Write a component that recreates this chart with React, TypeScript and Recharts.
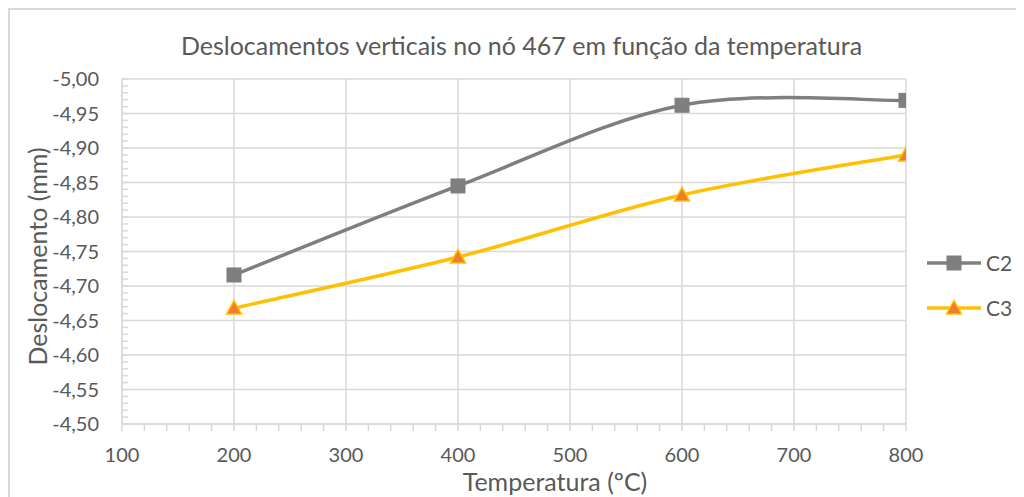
import React from 'react';
import { LineChart, Line, XAxis, YAxis, CartesianGrid, Legend } from 'recharts';

// Temperaturas (ºC) e deslocamentos verticais (mm) no nó 467
const temperatures = [200, 400, 600, 800];
const c2Values = [-4.716, -4.845, -4.962, -4.969];
const c3Values = [-4.668, -4.742, -4.832, -4.89];

const xTicks = [100, 200, 300, 400, 500, 600, 700, 800];
const yTicks = [-5.0, -4.95, -4.9, -4.85, -4.8, -4.75, -4.7, -4.65, -4.6, -4.55, -4.5];
// minor ticks: 5 per major step
const xMinorTicks = Array.from({ length: 36 }, (_, i) => 100 + i * 20);
const yMinorTicks = Array.from({ length: 51 }, (_, i) => -5 + i * 0.01);

const data = temperatures.map((t, i) => ({ temperature: t, C2: c2Values[i], C3: c3Values[i] }));

const series = [
  { key: 'C2', color: '#7f7f7f', marker: 'square' },
  { key: 'C3', color: '#ffc000', marker: 'triangle' },
];

const GRID = '#d9d9d9';
const TEXT = '#595959';

// Excel-style smoothed line (Catmull-Rom through the points)
const smoothCurve = (context: any) => {
  let pts: number[][] = [];
  return {
    areaStart() {},
    areaEnd() {},
    lineStart() {
      pts = [];
    },
    point(x: number, y: number) {
      pts.push([+x, +y]);
    },
    lineEnd() {
      const n = pts.length;
      if (!n) return;
      context.moveTo(pts[0][0], pts[0][1]);
      for (let i = 0; i < n - 1; i++) {
        const p0 = pts[Math.max(i - 1, 0)];
        const p1 = pts[i];
        const p2 = pts[i + 1];
        const p3 = pts[Math.min(i + 2, n - 1)];
        context.bezierCurveTo(
          p1[0] + (p2[0] - p0[0]) / 6,
          p1[1] + (p2[1] - p0[1]) / 6,
          p2[0] - (p3[0] - p1[0]) / 6,
          p2[1] - (p3[1] - p1[1]) / 6,
          p2[0],
          p2[1]
        );
      }
    },
  };
};

const marker = (type: string, cx: number, cy: number, key?: string) =>
  type === 'square' ? (
    <rect key={key} x={cx - 7} y={cy - 7} width={14} height={14} fill="#7f7f7f" stroke="#7f7f7f" strokeWidth={1} />
  ) : (
    <polygon
      key={key}
      points={`${cx},${cy - 7.5} ${cx + 7.5},${cy + 6} ${cx - 7.5},${cy + 6}`}
      fill="#ed7d31"
      stroke="#ffc000"
      strokeWidth={1.5}
      strokeLinejoin="miter"
    />
  );

const fmt = (v: number) => v.toFixed(2).replace('.', ',');
const isMajor = (v: number, step: number) => Math.abs(v / step - Math.round(v / step)) < 1e-6;

// only major ticks get a label, the rest are bare tick marks
const XTick = ({ x, y, payload }: any) =>
  isMajor(payload.value, 100) ? (
    <text x={x} y={y} dy="0.71em" textAnchor="middle" fill={TEXT} fontSize={20}>
      {payload.value}
    </text>
  ) : (
    <g />
  );

const YTick = ({ x, y, payload }: any) =>
  isMajor(payload.value, 0.05) ? (
    <text x={x} y={y} dy="0.355em" textAnchor="end" fill={TEXT} fontSize={20}>
      {fmt(payload.value)}
    </text>
  ) : (
    <g />
  );

const renderLegend = () => (
  <div>
    {series.map((s) => (
      <div key={s.key} style={{ display: 'flex', alignItems: 'center', height: 45 }}>
        <svg width={54} height={20}>
          <line x1={0} y1={10} x2={54} y2={10} stroke={s.color} strokeWidth={3.5} />
          {marker(s.marker, 27, 10)}
        </svg>
        <span style={{ marginLeft: 5, fontSize: 21, color: TEXT }}>{s.key}</span>
      </div>
    ))}
  </div>
);

export default function App() {
  return (
    <div
      style={{
        position: 'relative',
        width: 1016,
        height: 489,
        boxSizing: 'border-box',
        borderTop: `2px solid ${GRID}`,
        borderLeft: `2px solid ${GRID}`,
        fontFamily: 'Lato, sans-serif',
        background: '#fff',
      }}
    >
      <div
        style={{
          position: 'absolute',
          top: 20,
          left: 0,
          width: 1023,
          textAlign: 'center',
          fontSize: 25,
          lineHeight: '30px',
          color: TEXT,
        }}
      >
        Deslocamentos verticais no nó 467 em função da temperatura
      </div>
      <LineChart width={1014} height={487} data={data} margin={{ top: 69, right: 118, bottom: 0, left: 0 }}>
        <CartesianGrid stroke={GRID} strokeWidth={1.5} verticalValues={xTicks} horizontalValues={yTicks} />
        <XAxis
          dataKey="temperature"
          type="number"
          domain={[100, 800]}
          ticks={xMinorTicks}
          interval={0}
          height={73}
          allowDataOverflow
          stroke={GRID}
          strokeWidth={1.5}
          tickSize={7}
          tickMargin={17}
          tick={<XTick />}
          label={{ value: 'Temperatura (ºC)', position: 'insideBottom', offset: 6, dx: 41, fill: TEXT, fontSize: 25 }}
        />
        <YAxis
          type="number"
          domain={[-5, -4.5]}
          ticks={yMinorTicks}
          interval={0}
          reversed
          allowDataOverflow
          width={112}
          stroke={GRID}
          strokeWidth={1.5}
          tickSize={-6}
          tickMargin={29}
          tick={<YTick />}
          label={{
            value: 'Deslocamento (mm)',
            angle: -90,
            position: 'insideLeft',
            offset: 28,
            dy: 5,
            textAnchor: 'middle',
            fill: TEXT,
            fontSize: 25,
          }}
        />
        <Legend
          layout="horizontal"
          verticalAlign="middle"
          align="center"
          content={renderLegend}
          wrapperStyle={{ left: 917, top: 230, width: 100 }}
        />
        {series.map((s) => (
          <Line
            key={s.key}
            dataKey={s.key}
            type={smoothCurve as any}
            stroke={s.color}
            strokeWidth={3.5}
            isAnimationActive={false}
            dot={(p: any) => marker(s.marker, p.cx, p.cy, `${s.key}-${p.index}`)}
            activeDot={false}
          />
        ))}
      </LineChart>
    </div>
  );
}
